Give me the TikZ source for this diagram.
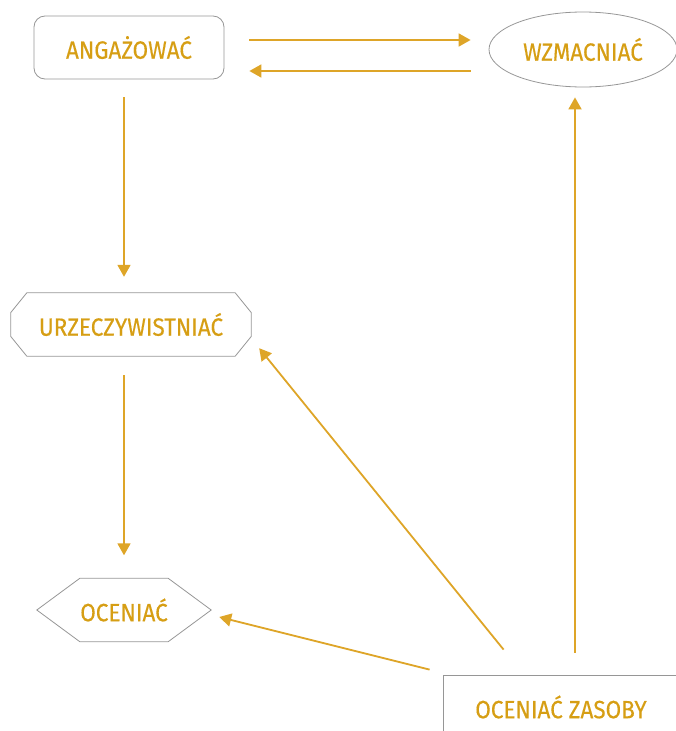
\documentclass[tikz,border=0pt]{standalone}
\usepackage{fontspec}
\setmainfont{Fira Sans}[FakeStretch=0.9,FakeBold=0.3]
\usetikzlibrary{arrows.meta,shapes.geometric,calc}
\definecolor{gold}{RGB}{222,165,40}
\definecolor{goldtext}{RGB}{214,158,20}
\definecolor{edge}{RGB}{150,150,150}
\begin{document}
\begin{tikzpicture}[x=1pt,y=-1pt,
  lbl/.style={text=goldtext,font=\fontsize{25}{28}\selectfont,inner sep=0pt},
  outline/.style={draw=edge,line width=0.8pt},
  conn/.style={draw=gold,line width=1.8pt,-{Triangle[length=12pt,width=13pt]}}]
\useasboundingbox (0,0) rectangle (676,731);
\node[lbl,outline,rounded corners=11pt,minimum width=190pt,minimum height=63pt] (A) at (129,47.5) {ANGAŻOWAĆ};
\node[lbl,outline,ellipse,minimum width=188pt,minimum height=75pt] (W) at (583,49.5) {WZMACNIAĆ};
\node[lbl,minimum width=240pt,minimum height=63pt] (U) at (131,324.5) {URZECZYWISTNIAĆ};
\draw[outline] ($(U.west)+(0,-12)$) -- ($(U.north west)+(16,0)$) -- ($(U.north east)+(-16,0)$) -- ($(U.east)+(0,-12)$) -- ($(U.east)+(0,12)$) -- ($(U.south east)+(-16,0)$) -- ($(U.south west)+(16,0)$) -- ($(U.west)+(0,12)$) -- cycle;
\node[lbl,minimum width=174pt,minimum height=63pt] (O) at (124,610) {OCENIAĆ};
\draw[outline] (O.west) -- ($(O.north west)+(43,0)$) -- ($(O.north east)+(-43,0)$) -- (O.east) -- ($(O.south east)+(-43,0)$) -- ($(O.south west)+(43,0)$) -- cycle;
\node[lbl,outline,minimum width=236pt,minimum height=64pt] (Z) at (561,707) {OCENIAĆ ZASOBY};
\draw[conn] ($(A.east)+(25,-7.5)$) -- ($(W.west)+(-18,-9.5)$);
\draw[conn] ($(W.west)+(-18,21.5)$) -- ($(A.east)+(25,23.5)$);
\draw[conn] ($(A.south)+(-5,18)$) -- ($(U.north)+(-7,-16)$);
\draw[conn] ($(U.south)+(-7,19)$) -- ($(O.north)+(0,-23)$);
\draw[conn] ($(Z.north)+(14,-22)$) -- ($(W.south)+(-8,10)$);
\draw[conn] ($(Z.north west)+(61,-25)$) -- ($(U.south east)+(8,-8)$);
\draw[conn] ($(Z.north west)+(-13,-5)$) -- ($(O.east)+(8,7)$);
\end{tikzpicture}
\end{document}
